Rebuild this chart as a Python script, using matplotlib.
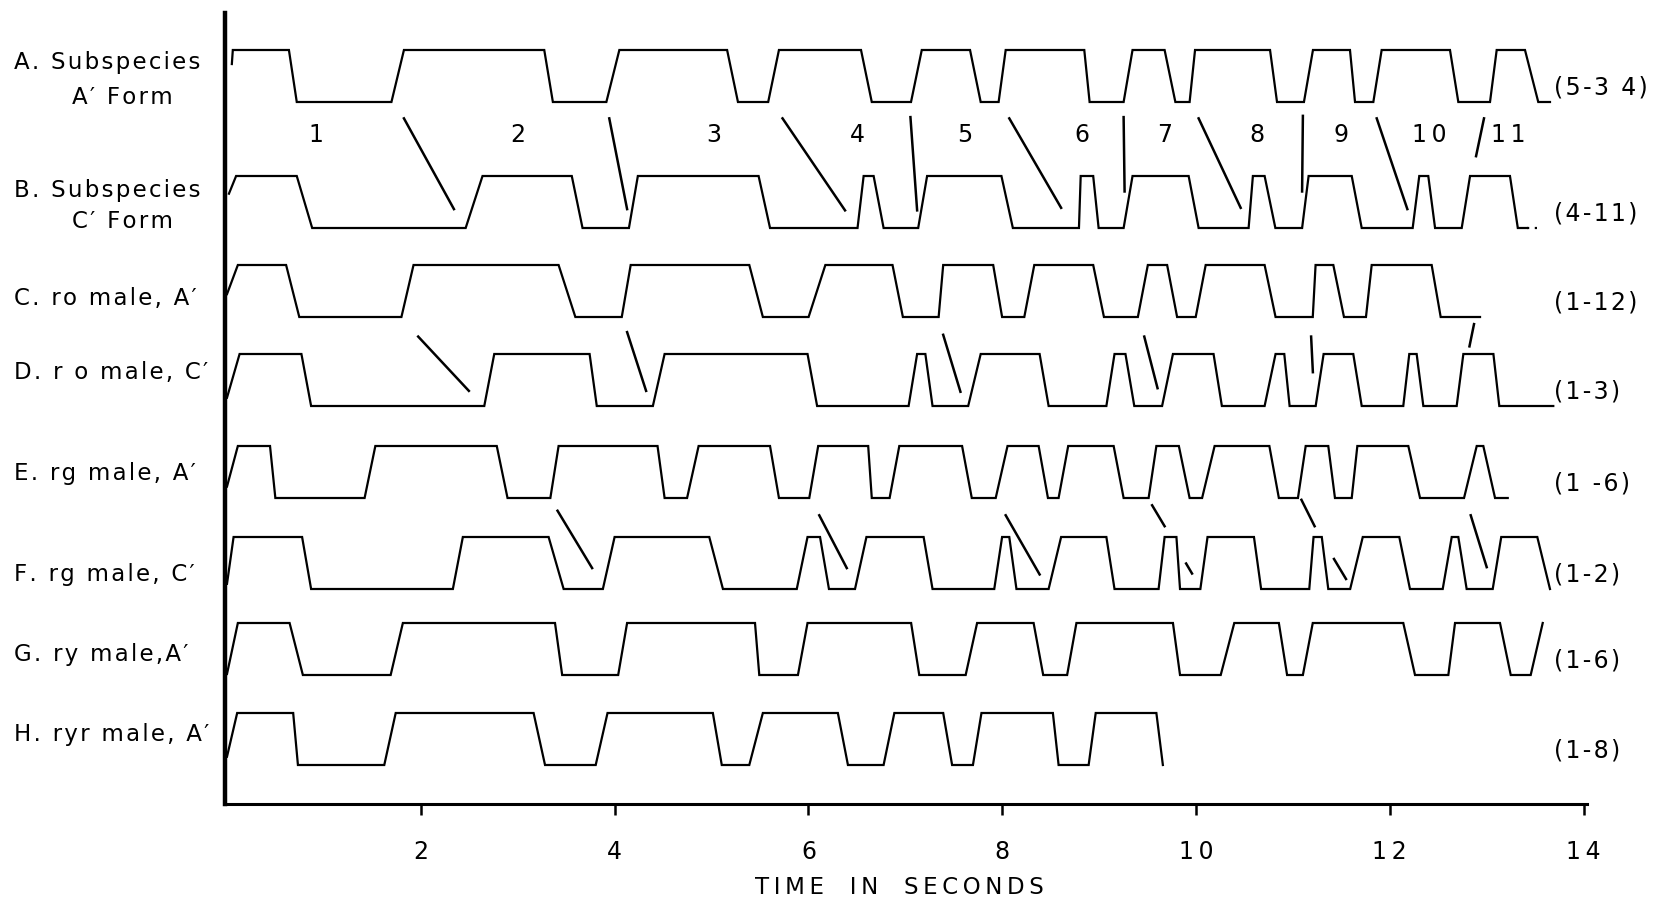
import matplotlib
matplotlib.use('Agg')
import matplotlib.pyplot as plt

plt.rcParams['font.family'] = ['DejaVu Sans']

# %% data: vertex times (s) of each trace; levels alternate L-H-H-L-L-H-H...
row_names = ['A', 'B', 'C', 'D', 'E', 'F', 'G', 'H']
left_labels = [('A. Subspecies', "A′ Form"), ('B. Subspecies', "C′ Form"),
               ('C. ro male, A′',), ('D. r o male, C′',),
               ('E. rg male, A′',), ('F. rg male, C′',),
               ('G. ry male,A′',), ('H. ryr male, A′',)]
right_labels = ['(5-3 4)', '(4-11)', '(1-12)', '(1-3)', '(1 -6)', '(1-2)', '(1-6)', '(1-8)']
start_level = [0.73, 0.66, 0.44, 0.16, 0.22, 0.10, 0.02, 0.16]

t_A = [0.05, 0.06, 0.639, 0.720, 1.697, 1.826, 3.274, 3.363, 3.915, 4.049, 5.161, 5.273,
       5.585, 5.696, 6.543, 6.654, 7.059, 7.170, 7.668, 7.778, 7.963, 8.036, 8.847, 8.902,
       9.253, 9.345, 9.676, 9.787, 9.934, 9.990, 10.764, 10.836, 11.114, 11.207, 11.589,
       11.641, 11.830, 11.916, 12.621, 12.707, 13.034, 13.103, 13.395, 13.532, 13.653]
t_B = [0.02, 0.094, 0.720, 0.879, 2.463, 2.637, 3.558, 3.669, 4.148, 4.240, 5.486, 5.604,
       6.507, 6.570, 6.673, 6.776, 7.133, 7.225, 7.992, 8.110, 8.792, 8.810, 8.939, 8.995,
       9.253, 9.345, 9.924, 10.027, 10.543, 10.587, 10.708, 10.819, 11.095, 11.162, 11.607,
       11.710, 12.236, 12.304, 12.397, 12.467, 12.742, 12.828, 13.240, 13.321, 13.413]
t_C = [0.0, 0.112, 0.610, 0.746, 1.800, 1.925, 3.422, 3.595, 4.074, 4.166, 5.390, 5.530,
       6.002, 6.175, 6.868, 6.975, 7.344, 7.391, 7.907, 7.999, 8.228, 8.331, 8.939, 9.050,
       9.400, 9.503, 9.702, 9.805, 9.997, 10.100, 10.708, 10.821, 11.205, 11.234, 11.417,
       11.527, 11.754, 11.813, 12.432, 12.525, 12.931]
t_D = [0.0, 0.130, 0.768, 0.868, 2.655, 2.758, 3.742, 3.816, 4.395, 4.516, 5.991, 6.090,
       7.034, 7.122, 7.207, 7.281, 7.649, 7.778, 8.386, 8.479, 9.075, 9.159, 9.272, 9.363,
       9.650, 9.762, 10.181, 10.267, 10.708, 10.821, 10.911, 10.966, 11.235, 11.317, 11.623,
       11.710, 12.139, 12.201, 12.277, 12.346, 12.690, 12.759, 13.069, 13.130, 13.687]
t_E = [0.0, 0.112, 0.444, 0.499, 1.420, 1.531, 2.784, 2.895, 3.337, 3.422, 4.443, 4.516,
       4.748, 4.867, 5.604, 5.696, 6.009, 6.101, 6.617, 6.654, 6.838, 6.938, 7.586, 7.686,
       7.933, 8.055, 8.376, 8.472, 8.582, 8.681, 9.150, 9.253, 9.511, 9.591, 9.823, 9.934,
       10.063, 10.192, 10.757, 10.855, 11.052, 11.132, 11.365, 11.434, 11.607, 11.665,
       12.191, 12.312, 12.766, 12.897, 12.965, 13.086, 13.217]
t_F = [0.0, 0.068, 0.775, 0.868, 2.331, 2.434, 3.319, 3.474, 3.879, 4.000, 4.977, 5.118,
       5.880, 5.991, 6.120, 6.212, 6.481, 6.599, 7.189, 7.281, 7.918, 7.999, 8.073, 8.147,
       8.479, 8.608, 9.075, 9.159, 9.614, 9.676, 9.798, 9.835, 10.045, 10.119, 10.598,
       10.672, 11.169, 11.213, 11.298, 11.365, 11.591, 11.721, 12.098, 12.208, 12.546,
       12.639, 12.707, 12.793, 13.062, 13.150, 13.522, 13.653]
t_G = [0.0, 0.112, 0.646, 0.783, 1.689, 1.815, 3.385, 3.459, 4.037, 4.129, 5.449, 5.493,
       5.892, 5.991, 7.060, 7.144, 7.623, 7.741, 8.324, 8.423, 8.670, 8.766, 9.762, 9.835,
       10.255, 10.395, 10.855, 10.940, 11.103, 11.205, 12.139, 12.260, 12.604, 12.673,
       13.137, 13.248, 13.454, 13.578]
t_H = [0.0, 0.105, 0.683, 0.732, 1.623, 1.741, 3.164, 3.282, 3.805, 3.927, 5.014, 5.106,
       5.390, 5.530, 6.304, 6.408, 6.776, 6.887, 7.391, 7.483, 7.698, 7.786, 8.523, 8.582,
       8.892, 8.965, 9.591, 9.658]
traces = [t_A, t_B, t_C, t_D, t_E, t_F, t_G, t_H]
b_dotted = [13.413, 13.55]

# flash numbers between A and B
flash_num = ['1', '2', '3', '4', '5', '6', '7', '8', '9', '10', '11']
flash_t = [0.92, 3.0, 5.02, 6.51, 7.61, 8.82, 9.68, 10.63, 11.50, 12.41, 13.22]

# connecting strokes: (t top, t bottom, frac top, frac bottom) within a gap
links_AB = [(1.826, 2.342, .13, .85), (3.945, 4.129, .13, .85), (5.733, 6.378, .13, .86),
            (7.053, 7.122, .12, .86), (8.073, 8.608, .13, .84), (9.253, 9.263, .12, .71),
            (10.027, 10.461, .13, .84), (11.103, 11.095, .11, .71), (11.865, 12.181, .13, .85),
            (12.972, 12.890, .13, .43)]
links_CD = [(1.973, 2.496, .22, .83), (4.129, 4.325, .17, .83), (7.391, 7.569, .20, .84),
            (9.466, 9.603, .22, .80), (11.188, 11.206, .22, .62), (12.869, 12.822, .08, .33)]
links_EF = [(3.411, 3.768, .14, .77), (6.112, 6.396, .19, .77), (8.036, 8.386, .19, .84),
            (9.547, 9.676, .08, .31), (9.898, 9.959, .72, .83), (11.088, 11.224, .02, .31),
            (11.424, 11.548, .67, .89), (12.835, 13.000, .19, .76)]
xticks = [2, 4, 6, 8, 10, 12, 14]

# %% layout (figure pixels, y down)
W, H = 1659, 910
row_top = [50, 176, 265, 354, 446, 537, 623, 713]
amp = 52
lw = 1.6


def spaced(s, sep='\u200a'):
    # lettering in the original is set wide
    return sep.join(s)


fig = plt.figure(figsize=(W / 100, H / 100), dpi=100)
ax = fig.add_axes([225 / W, (H - 804) / H, (1587 - 225) / W, (804 - 13) / H])
ax.set_xlim(-0.0206, 14.035)
ax.set_ylim(804, 13)


def levels(times, s0):
    out = []
    for i in range(len(times)):
        lv = s0 if i == 0 else (1.0 if ((i - 1) // 2) % 2 == 0 else 0.0)
        out.append(lv)
    return out


for k, tt in enumerate(traces):
    lv = levels(tt, start_level[k])
    ys = [row_top[k] + (1 - v) * amp for v in lv]
    ax.plot(tt, ys, color='k', lw=lw, solid_joinstyle='miter', clip_on=False)

ax.plot(b_dotted, [row_top[1] + amp] * 2, color='k', lw=lw, ls=(0, (1, 2.5)))


def draw_links(links, up, lo):
    y0 = row_top[up] + amp
    y1 = row_top[lo] + amp
    for ta, tb, fa, fb in links:
        ax.plot([ta, tb], [y0 + fa * (y1 - y0), y0 + fb * (y1 - y0)], color='k', lw=1.8)


draw_links(links_AB, 0, 1)
draw_links(links_CD, 2, 3)
draw_links(links_EF, 4, 5)

for s, t in zip(flash_num, flash_t):
    ax.text(t, 135, spaced(s, '\u2009'), ha='center', va='center', fontsize=17)

for k, lab in enumerate(right_labels):
    ax.text(13.69, row_top[k] + amp - 14, spaced(lab), ha='left', va='center',
            fontsize=17, clip_on=False)

# left labels
left_y = [(62, 97), (191, 221), (299,), (372,), (473,), (574,), (654,), (734,)]
for lab, ys in zip(left_labels, left_y):
    fig.text(14 / W, 1 - ys[0] / H, spaced(lab[0]), ha='left', va='center', fontsize=16.5)
    if len(lab) > 1:
        fig.text(72 / W, 1 - ys[1] / H, spaced(lab[1]), ha='left', va='center', fontsize=16.5)

for sp in ['top', 'right']:
    ax.spines[sp].set_visible(False)
ax.spines['left'].set_linewidth(3.2)
ax.spines['bottom'].set_linewidth(2.2)
ax.set_yticks([])
ax.set_xticks(xticks)
ax.set_xticklabels([spaced(str(v), '\u2009') for v in xticks])
ax.tick_params(axis='x', direction='out', length=8, width=1.8, labelsize=17, pad=18)

fig.text(899 / W, 1 - 887 / H, '\u2009'.join('TIME IN SECONDS').replace('\u2009 \u2009', '\u2009\u2009 \u2009\u2009'),
         ha='center', va='center', fontsize=16.5)

fig.savefig('out.png', dpi=100)
